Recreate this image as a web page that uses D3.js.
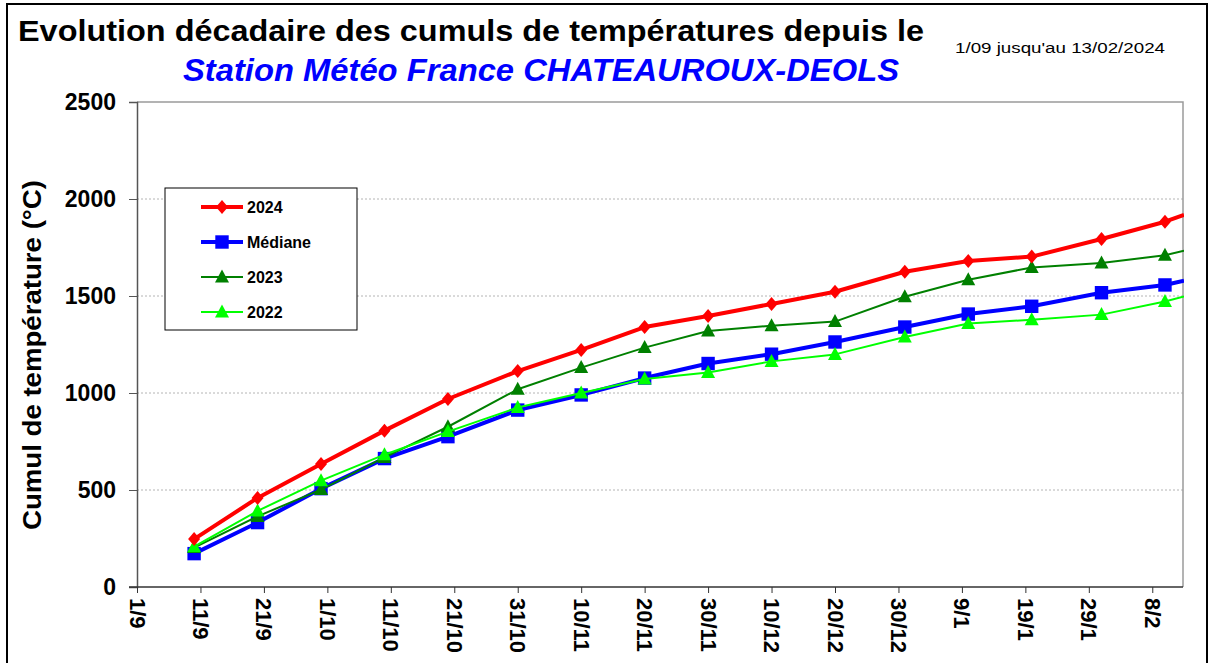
<!DOCTYPE html>
<html>
<head>
<meta charset="utf-8">
<script src="https://cdn.jsdelivr.net/npm/d3@7"></script>
<style>
  body { margin: 0; background: #fff; }
  svg { font-family: Arial, "Liberation Sans", sans-serif; }
</style>
</head>
<body>
<svg width="1215" height="663"></svg>
<script>
// dates of the decade ends (last one = date of the update)
const dates = ["2023-09-10", "2023-09-20", "2023-09-30", "2023-10-10", "2023-10-20", "2023-10-31",
  "2023-11-10", "2023-11-20", "2023-11-30", "2023-12-10", "2023-12-20", "2023-12-31",
  "2024-01-10", "2024-01-20", "2024-01-31", "2024-02-10", "2024-02-13"]
const tickDates = ["2023-09-01", "2023-09-11", "2023-09-21", "2023-10-01", "2023-10-11", "2023-10-21",
  "2023-10-31", "2023-11-10", "2023-11-20", "2023-11-30", "2023-12-10", "2023-12-20",
  "2023-12-30", "2024-01-09", "2024-01-19", "2024-01-29", "2024-02-08"]
const yTicks = [0, 500, 1000, 1500, 2000, 2500]

const v2024 = [247, 459, 634, 806, 969, 1113, 1222, 1340, 1397, 1459, 1522, 1625, 1680, 1703, 1794, 1883, 1918]
const vMediane = [172, 332, 507, 662, 775, 912, 990, 1077, 1152, 1200, 1263, 1340, 1407, 1447, 1517, 1557, 1579]
const v2023 = [203, 364, 502, 668, 826, 1019, 1131, 1234, 1320, 1347, 1368, 1496, 1584, 1647, 1670, 1710, 1734]
const v2022 = [208, 392, 548, 682, 801, 925, 1000, 1072, 1106, 1163, 1199, 1289, 1358, 1378, 1404, 1472, 1497]

const series = [
  {name: "Médiane", values: vMediane, color: "#0000ff", width: 4, marker: "square"},
  {name: "2023", values: v2023, color: "#008000", width: 2, marker: "triangle"},
  {name: "2022", values: v2022, color: "#00ff00", width: 2, marker: "triangle"},
  {name: "2024", values: v2024, color: "#ff0000", width: 4, marker: "diamond"}
]
const legendOrder = ["2024", "Médiane", "2023", "2022"]

const parse = d3.timeParse("%Y-%m-%d")
const svg = d3.select("svg")
const pLeft = 137, pRight = 1184, pTop = 102, pBottom = 587

// outer frame
svg.append("rect")
  .attr("x", 7).attr("y", 4).attr("width", 1200).attr("height", 680)
  .attr("fill", "none").attr("stroke", "#000").attr("stroke-width", 2)

svg.append("text")
  .attr("x", 18).attr("y", 41)
  .attr("font-size", 30).attr("font-weight", "bold")
  .attr("textLength", 906).attr("lengthAdjust", "spacingAndGlyphs")
  .text("Evolution décadaire des cumuls de températures depuis le")
svg.append("text")
  .attr("x", 955).attr("y", 53)
  .attr("font-size", 14).attr("textLength", 210).attr("lengthAdjust", "spacingAndGlyphs")
  .text("1/09 jusqu'au 13/02/2024")
svg.append("text")
  .attr("x", 183).attr("y", 81)
  .attr("font-size", 31).attr("font-weight", "bold").attr("font-style", "italic")
  .attr("textLength", 716).attr("lengthAdjust", "spacingAndGlyphs")
  .attr("fill", "#0000ff")
  .text("Station Météo France CHATEAUROUX-DEOLS")

const x = d3.scaleTime()
  .domain([parse("2023-09-01"), parse("2024-02-13")])
  .range([pLeft, pRight])
const y = d3.scaleLinear().domain([0, 2500]).range([pBottom, pTop])

// grid
svg.append("g")
  .selectAll("line")
  .data(yTicks.slice(1, -1))
  .enter().append("line")
  .attr("x1", pLeft).attr("x2", pRight - 1)
  .attr("y1", d => y(d)).attr("y2", d => y(d))
  .attr("stroke", "#b4b4b4").attr("stroke-dasharray", "2,2")

// plot frame top/right
svg.append("path")
  .attr("d", `M${pLeft},${pTop}H${pRight - 1}V${pBottom}`)
  .attr("fill", "none").attr("stroke", "#9a9a9a").attr("stroke-width", 1.5)

const yAxis = svg.append("g")
  .attr("transform", `translate(${pLeft},0)`)
  .call(d3.axisLeft(y).tickValues(yTicks).tickFormat(d3.format("d")).tickSize(8).tickPadding(13))
yAxis.select(".domain").attr("stroke", "#555").attr("stroke-width", 1.5)
yAxis.selectAll(".tick line").attr("stroke", "#555")
yAxis.selectAll("text")
  .attr("font-size", 23).attr("font-weight", "bold")
  .attr("font-family", "Arial, 'Liberation Sans', sans-serif").attr("fill", "#000")

const xAxis = svg.append("g")
  .attr("transform", `translate(0,${pBottom})`)
  .call(d3.axisBottom(x)
    .tickValues(tickDates.map(parse))
    .tickFormat(d3.timeFormat("%-d/%-m"))
    .tickSize(6))
xAxis.select(".domain").attr("stroke", "#333").attr("stroke-width", 1.5)
  .attr("d", `M${pLeft - 8},0H${pRight - 1}`)
xAxis.selectAll(".tick line").attr("stroke", "#333")
xAxis.selectAll("text")
  .attr("font-size", 22).attr("font-weight", "bold")
  .attr("font-family", "Arial, 'Liberation Sans', sans-serif").attr("fill", "#000")
  .attr("transform", "rotate(90)")
  .attr("text-anchor", "start")
  .attr("x", 11).attr("y", 8).attr("dy", null)

svg.append("text")
  .attr("transform", "translate(41,355) rotate(-90)")
  .attr("text-anchor", "middle")
  .attr("font-size", 26).attr("font-weight", "bold")
  .attr("textLength", 350).attr("lengthAdjust", "spacingAndGlyphs")
  .text("Cumul de température (°C)")

svg.append("clipPath").attr("id", "plot")
  .append("rect").attr("x", pLeft).attr("y", pTop).attr("width", pRight - pLeft).attr("height", pBottom - pTop)

const markerPath = {
  square: d3.symbol(d3.symbolSquare, 180)(),
  diamond: "M0,-7L6,0L0,7L-6,0Z",
  triangle: "M0,-7.5L7,5.5H-7Z"
}

const line = d3.line()
  .x(d => x(d.date))
  .y(d => y(d.value))

const plot = svg.append("g").attr("clip-path", "url(#plot)")
series.forEach(s => {
  const pts = s.values.map((v, i) => ({date: parse(dates[i]), value: v}))
  plot.append("path")
    .datum(pts)
    .attr("d", line)
    .attr("fill", "none")
    .attr("stroke", s.color)
    .attr("stroke-width", s.width)
    .attr("stroke-linejoin", "round")
  plot.selectAll(null)
    .data(pts.slice(0, -1))
    .enter().append("path")
    .attr("d", markerPath[s.marker])
    .attr("transform", d => `translate(${x(d.date)},${y(d.value)})`)
    .attr("fill", s.color)
})

// legend
const legend = svg.append("g").attr("transform", "translate(165,188)")
legend.append("rect")
  .attr("width", 192).attr("height", 142)
  .attr("fill", "#fff").attr("stroke", "#000").attr("stroke-width", 1)
legendOrder.forEach((name, i) => {
  const s = series.find(d => d.name === name)
  const ly = 19 + i * 35
  legend.append("line")
    .attr("x1", 36).attr("x2", 78).attr("y1", ly).attr("y2", ly)
    .attr("stroke", s.color).attr("stroke-width", s.width)
  legend.append("path")
    .attr("d", markerPath[s.marker])
    .attr("transform", `translate(57,${ly})`)
    .attr("fill", s.color)
  legend.append("text")
    .attr("x", 82).attr("y", ly + 6)
    .attr("font-size", 16).attr("font-weight", "bold")
    .text(name)
})
</script>
</body>
</html>
